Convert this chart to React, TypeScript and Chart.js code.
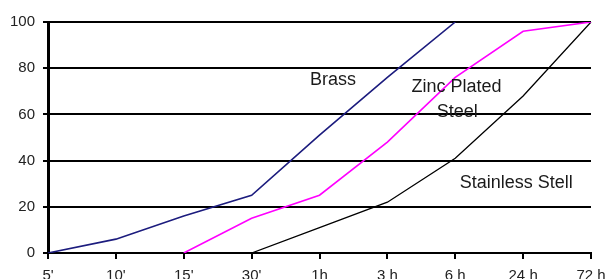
import React, { useEffect, useRef } from "react";
import { Chart, registerables } from "chart.js";

Chart.register(...registerables);

const timeLabels = ["5'", "10'", "15'", "30'", "1h", "3 h", "6 h", "24 h", "72 h"];
const yTicks = [0, 20, 40, 60, 80, 100];
const brass = [0, 6, 16, 25, 51, 76, 100, null, null];
const zincPlated = [null, null, 0, 15, 25, 48, 76, 96, 100];
const stainless = [null, null, null, 0, 11, 22, 41, 68, 100];

const noteTexts = ["Brass", "Zinc Plated", "Steel", "Stainless Stell"];
const noteX = [4.2, 6.02, 6.03, 6.9];
const noteY = [75, 71.9, 61, 30.3];

const notesPlugin = {
  id: "notes",
  afterDatasetsDraw(chart: any) {
    const { ctx, scales } = chart;
    ctx.save();
    ctx.font = "18px 'Liberation Sans', Arial, sans-serif";
    ctx.fillStyle = "#1a1a1a";
    ctx.textAlign = "center";
    ctx.textBaseline = "middle";
    noteTexts.forEach((t, i) => {
      ctx.fillText(t, scales.x.getPixelForValue(noteX[i]), scales.y.getPixelForValue(noteY[i]));
    });
    ctx.restore();
  },
};

export default function App() {
  const ref = useRef<HTMLCanvasElement>(null);
  useEffect(() => {
    document.body.style.margin = "0";
    const chart = new Chart(ref.current!, {
      type: "line",
      data: {
        labels: timeLabels,
        datasets: [
          { label: "Brass", data: brass, borderColor: "#1c1c7e", borderWidth: 1.6, pointRadius: 0, tension: 0 },
          { label: "Zinc Plated Steel", data: zincPlated, borderColor: "#ff00ff", borderWidth: 1.6, pointRadius: 0, tension: 0 },
          { label: "Stainless Stell", data: stainless, borderColor: "#000000", borderWidth: 1.3, pointRadius: 0, tension: 0 },
        ],
      },
      options: {
        animation: false,
        responsive: false,
        events: [],
        layout: { padding: { top: 22, right: 19, left: 0, bottom: 0 } },
        plugins: { legend: { display: false }, tooltip: { enabled: false } },
        scales: {
          x: {
            type: "category",
            offset: false,
            grid: { drawOnChartArea: false, drawTicks: true, tickLength: 6, color: "#000", lineWidth: 2 },
            border: { display: true, color: "#000", width: 2 },
            ticks: {
              color: "#222",
              font: { family: "'Liberation Sans', Arial, sans-serif", size: 15 },
              padding: 8,
              maxRotation: 0,
              autoSkip: false,
            },
            afterFit: (s: any) => { s.height = 26; s.paddingLeft = 0; s.paddingRight = 0; },
          },
          y: {
            min: 0,
            max: 100,
            afterBuildTicks: (s: any) => { s.ticks = yTicks.map((v) => ({ value: v })); },
            grid: { color: "#000", lineWidth: 2, tickLength: 5, drawTicks: true },
            border: { display: true, color: "#000", width: 3 },
            ticks: {
              color: "#222",
              font: { family: "'Liberation Sans', Arial, sans-serif", size: 15 },
              padding: 8,
            },
            afterFit: (s: any) => { s.width = 48; s.paddingTop = 0; s.paddingBottom = 0; },
          },
        },
      },
      plugins: [notesPlugin],
    });
    return () => chart.destroy();
  }, []);
  return <canvas ref={ref} width={610} height={279} style={{ display: "block" }} />;
}
